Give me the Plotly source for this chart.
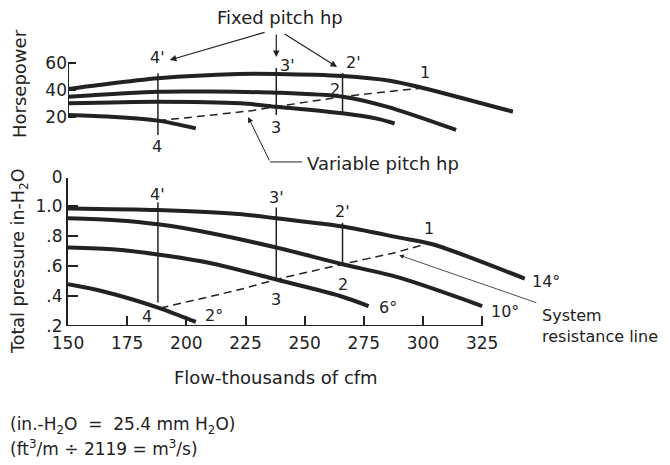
import plotly.graph_objects as go

INK = "#222222"
FONT = "DejaVu Sans, Arial, sans-serif"
W, H = 670, 465
OFF = 8  # the page body keeps its default 8px margin

# axis ticks
flow_ticks = [150, 175, 200, 225, 250, 275, 300, 325]
pressure_ticks = [0.2, 0.4, 0.6, 0.8, 1.0, 1.19]
pressure_tick_text = [".2", ".4", ".6", ".8", "1.0", "0"]
hp_ticks = [20, 40, 60]

# total pressure (in-H2O) vs flow (thousands of cfm), per blade pitch
p14_flow = [150, 188, 222, 238, 266, 290, 304, 343]
p14 = [0.984, 0.973, 0.947, 0.918, 0.863, 0.789, 0.745, 0.516]
p10_flow = [150, 170, 188, 210, 238, 266, 290, 325]
p10 = [0.918, 0.905, 0.878, 0.82, 0.723, 0.612, 0.522, 0.333]
p6_flow = [150, 170, 188, 210, 238, 265, 277]
p6 = [0.723, 0.71, 0.677, 0.62, 0.51, 0.40, 0.333]
p2_flow = [150, 165, 188, 204]
p2 = [0.478, 0.43, 0.323, 0.227]
system_flow = [189, 223, 238, 266, 288, 302]
system_p = [0.32, 0.445, 0.51, 0.612, 0.689, 0.75]

# horsepower vs flow
hp14_flow = [150, 163, 188, 222, 238, 266, 286, 300, 338]
hp14 = [40.7, 43.7, 48.7, 51.9, 51.9, 50.4, 46.9, 41.5, 23.9]
hp10_flow = [150, 188, 210, 238, 266, 285, 314]
hp10 = [35.0, 38.7, 38.8, 38.0, 35.0, 27.5, 10.4]
hp6_flow = [150, 188, 223, 238, 266, 280, 288]
hp6 = [30.1, 31.3, 30.1, 27.6, 22.7, 19.0, 15.2]
hp2_flow = [150, 168, 188, 204]
hp2 = [21.5, 20.2, 17.3, 11.6]
variable_flow = [188, 226, 238, 266, 299]
variable_hp = [17.3, 24.4, 27.6, 35.0, 41.3]

# operating points 4', 3', 2' (fixed pitch) above 4, 3, 2
point_flow = [188, 238, 266]
top_vline_hi = [52.4, 56.3, 52.6]
top_vline_lo = [6.7, 21.5, 21.5]
bot_vline_hi = [1.025, 0.99, 0.889]
bot_vline_lo = [0.356, 0.50, 0.60]


def fx(px):
  return (px - OFF) / W


def fy(py):
  return 1 - (py - OFF) / H


fig = go.Figure()

thick = dict(color=INK, width=4, shape="spline", smoothing=0.8)
for xs, ys in ((p14_flow, p14), (p10_flow, p10), (p6_flow, p6), (p2_flow, p2)):
  fig.add_trace(go.Scatter(x=xs, y=ys, mode="lines", line=thick,
                           xaxis="x", yaxis="y", hoverinfo="skip"))
for xs, ys in ((hp14_flow, hp14), (hp10_flow, hp10), (hp6_flow, hp6), (hp2_flow, hp2)):
  fig.add_trace(go.Scatter(x=xs, y=ys, mode="lines", line=thick,
                           xaxis="x", yaxis="y2", hoverinfo="skip"))

dashed = dict(color=INK, width=1.5, dash="8px,5px", shape="spline", smoothing=0.6)
fig.add_trace(go.Scatter(x=system_flow, y=system_p, mode="lines", line=dashed,
                         xaxis="x", yaxis="y", hoverinfo="skip"))
fig.add_trace(go.Scatter(x=variable_flow, y=variable_hp, mode="lines", line=dashed,
                         xaxis="x", yaxis="y2", hoverinfo="skip"))

thin = dict(color=INK, width=1.5)
for q, hi, lo in zip(point_flow, top_vline_hi, top_vline_lo):
  fig.add_trace(go.Scatter(x=[q, q], y=[hi, lo], mode="lines", line=thin,
                           xaxis="x", yaxis="y2", hoverinfo="skip"))
for q, hi, lo in zip(point_flow, bot_vline_hi, bot_vline_lo):
  fig.add_trace(go.Scatter(x=[q, q], y=[hi, lo], mode="lines", line=thin,
                           xaxis="x", yaxis="y", hoverinfo="skip"))

# axis lines that stop at the last tick
fig.add_shape(type="line", xref="x", yref="y",
              x0=flow_ticks[0], x1=flow_ticks[-1],
              y0=pressure_ticks[0], y1=pressure_ticks[0],
              line=dict(color=INK, width=2))
fig.add_shape(type="line", xref="x", yref="y2",
              x0=flow_ticks[0], x1=flow_ticks[0],
              y0=hp_ticks[0], y1=hp_ticks[-1],
              line=dict(color=INK, width=2))
# leader of "Variable pitch hp"
fig.add_shape(type="line", xref="x", yref="y2", x0=235.4, x1=248.9, y0=-13.3, y1=-13.3,
              line=dict(color=INK, width=1))


def label(text, x, y, yref="y", size=16, **kw):
  fig.add_annotation(text=text, x=x, y=y, xref="x", yref=yref, showarrow=False,
                     font=dict(size=size, color=INK, family=FONT), **kw)


def arrow(x, y, ax, ay, yref="y", width=1.2):
  fig.add_annotation(text="", x=x, y=y, ax=ax, ay=ay, xref="x", yref=yref,
                     axref="x", ayref=yref, showarrow=True, arrowhead=2,
                     arrowsize=1.1, arrowwidth=width, arrowcolor=INK)


# bottom panel labels
label("4'", point_flow[0], 1.075)
label("3'", point_flow[1], 1.058)
label("2'", point_flow[2], 0.963)
label("1", 302.5, 0.848)
label("2", point_flow[2], 0.48)
label("3", point_flow[1], 0.378)
label("4", 183.4, 0.265)
label("2°", 211.7, 0.267)
label("6°", 285.2, 0.325)
label("10°", 334.7, 0.30)
label("14°", 352, 0.50)
label("System<br>resistance line", 349.5, 0.35, size=16, xanchor="left",
      yanchor="top", align="left")
arrow(290, 0.672, 348.5, 0.352, width=0.8)

# top panel labels
label("4'", point_flow[0], 64.4, yref="y2")
label("3'", 242.6, 58.5, yref="y2")
label("2'", 270.5, 60.0, yref="y2")
label("1", 300.9, 52.6, yref="y2")
label("2", 262.8, 40.7, yref="y2")
label("3", point_flow[1], 11.9, yref="y2")
label("4", 187.6, -2.2, yref="y2")
label("Fixed pitch hp", 239.6, 93.6, yref="y2", size=18)
arrow(193, 62.2, 233.7, 83, yref="y2")
arrow(point_flow[1], 64.4, point_flow[1], 82.2, yref="y2")
arrow(263.7, 57.0, 240.9, 82.2, yref="y2")
label("Variable pitch hp", 250.2, -14.5, yref="y2", size=18, xanchor="left")
arrow(226.1, 20.0, 235.4, -13.3, yref="y2", width=1)

page_text = dict(color=INK, family=FONT)
fig.add_annotation(text="Horsepower", x=fx(19), y=fy(84), xref="paper", yref="paper",
                   xanchor="center", yanchor="middle",
                   textangle=-90, showarrow=False, font=dict(size=18, **page_text))
fig.add_annotation(text="Total pressure in-H<sub>2</sub>O", x=fx(19), y=fy(261),
                   xref="paper", yref="paper", xanchor="center", yanchor="middle",
                   textangle=-90, showarrow=False, font=dict(size=17.5, **page_text))
fig.add_annotation(text="Flow-thousands of cfm", x=fx(276), y=fy(377), xref="paper",
                   yref="paper", xanchor="center", yanchor="middle", showarrow=False,
                   font=dict(size=18, **page_text))
fig.add_annotation(text="(in.-H<sub>2</sub>O  =  25.4 mm H<sub>2</sub>O)", x=fx(8),
                   y=fy(425), xref="paper", yref="paper", xanchor="left", yanchor="middle",
                   showarrow=False, font=dict(size=17, **page_text))
fig.add_annotation(text="(ft<sup>3</sup>/m ÷ 2119 = m<sup>3</sup>/s)", x=fx(8),
                   y=fy(448), xref="paper", yref="paper", xanchor="left", yanchor="middle",
                   showarrow=False, font=dict(size=17, **page_text))

tick_font = dict(size=17, color=INK, family=FONT)
fig.update_layout(
  width=W, height=H,
  autosize=False,
  margin=dict(l=0, r=0, t=0, b=0, pad=0, autoexpand=False),
  paper_bgcolor="white", plot_bgcolor="white",
  showlegend=False,
  font=dict(family=FONT, color=INK),
  xaxis=dict(domain=[fx(68), fx(565)], range=[150, 360], anchor="y",
             automargin=False, ticklabelstandoff=5,
             tickvals=flow_ticks, ticks="inside", ticklen=10, tickwidth=1.5,
             tickcolor=INK, showline=False, showgrid=False, zeroline=False,
             tickfont=tick_font),
  yaxis=dict(domain=[fy(326), fy(177.5)], range=[0.2, 1.19], anchor="x",
             automargin=False,
             tickvals=pressure_ticks, ticktext=pressure_tick_text,
             ticks="inside", ticklen=10, tickwidth=1.5, tickcolor=INK,
             showline=True, linewidth=2, linecolor=INK,
             showgrid=False, zeroline=False, tickfont=tick_font),
  yaxis2=dict(domain=[fy(175.05), fy(8.3)], range=[-23, 100.5], anchor="x",
              automargin=False,
              tickvals=hp_ticks, ticks="inside", ticklen=8, tickwidth=1.5,
              tickcolor=INK, showline=False, showgrid=False, zeroline=False,
              tickfont=tick_font),
)

fig.write_html("out.html")
